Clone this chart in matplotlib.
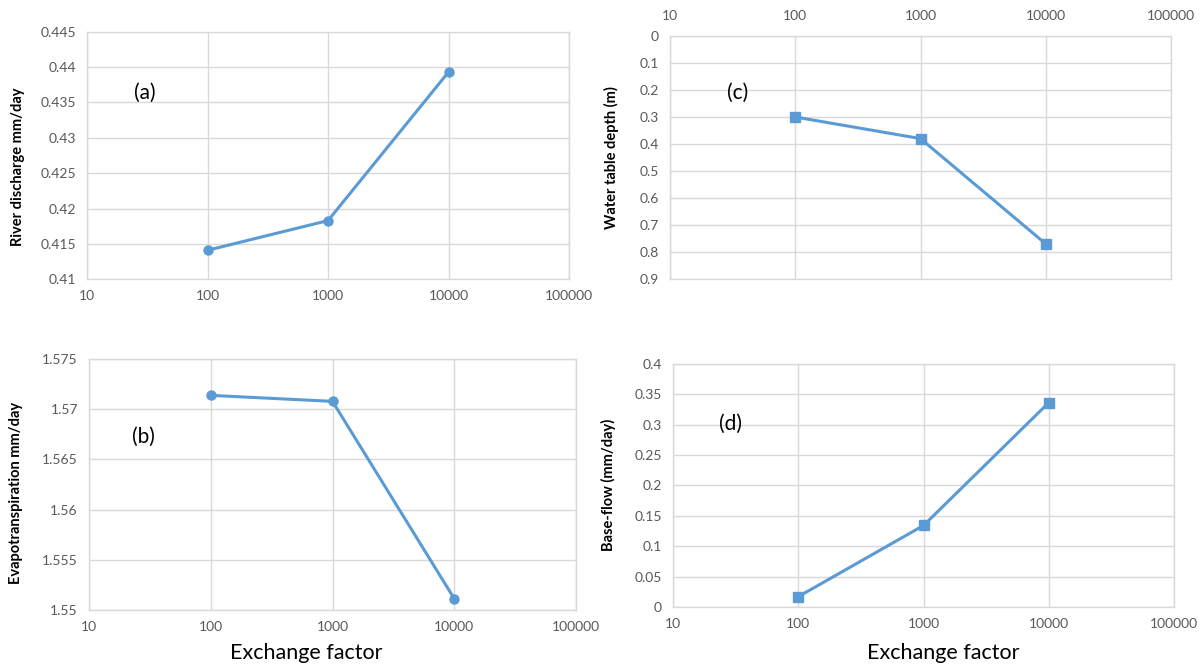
import matplotlib
matplotlib.use('Agg')
import matplotlib.pyplot as plt
from matplotlib.ticker import FixedLocator, FuncFormatter, NullLocator

plt.rcParams['font.family'] = ['Lato', 'DejaVu Sans']

W, H = 1203, 668

# data
exchange = [100, 1000, 10000]
river_discharge = [0.4141, 0.4183, 0.4393]
evapotranspiration = [1.5714, 1.5708, 1.5511]
water_table_depth = [0.30, 0.38, 0.77]
base_flow = [0.017, 0.134, 0.336]

x_ticks = [10, 100, 1000, 10000, 100000]
a_ticks = [0.41, 0.415, 0.42, 0.425, 0.43, 0.435, 0.44, 0.445]
b_ticks = [1.55, 1.555, 1.56, 1.565, 1.57, 1.575]
c_ticks = [0, 0.1, 0.2, 0.3, 0.4, 0.5, 0.6, 0.7, 0.8, 0.9]
d_ticks = [0, 0.05, 0.1, 0.15, 0.2, 0.25, 0.3, 0.35, 0.4]

BLUE = '#5B9BD5'
GRID = '#D9D9D9'
TICK = '#595959'


def px_rect(left, top, right, bottom):
    return [left / W, 1 - bottom / H, (right - left) / W, (bottom - top) / H]


def style(ax, yticks, top_x=False):
    ax.set_xscale('log')
    ax.set_xlim(10, 100000)
    ax.xaxis.set_major_locator(FixedLocator(x_ticks))
    ax.xaxis.set_minor_locator(NullLocator())
    ax.xaxis.set_major_formatter(FuncFormatter(lambda v, p: f'{int(round(v))}'))
    ax.yaxis.set_major_locator(FixedLocator(yticks))
    ax.yaxis.set_major_formatter(FuncFormatter(lambda v, p: f'{v:g}'))
    ax.grid(True, color=GRID, linewidth=1.0)
    ax.set_axisbelow(True)
    for s in ax.spines.values():
        s.set_color(GRID)
        s.set_linewidth(1.0)
    ax.tick_params(length=0, labelsize=10, labelcolor=TICK, pad=8)
    if top_x:
        ax.xaxis.tick_top()
        ax.tick_params(axis='x', pad=10)


fig = plt.figure(figsize=(W / 100, H / 100), dpi=100, facecolor='white')

# (a) river discharge
ax_a = fig.add_axes(px_rect(87, 31.7, 569, 279.3))
ax_a.plot(exchange, river_discharge, color=BLUE, lw=2.2, marker='o', ms=6.5)
style(ax_a, a_ticks)
ax_a.set_ylim(0.41, 0.445)
ax_a.text(0.12, 0.754, '(a)', transform=ax_a.transAxes, fontsize=15,
          ha='center', va='center')

# (b) evapotranspiration
ax_b = fig.add_axes(px_rect(89, 359.3, 576, 609.7))
ax_b.plot(exchange, evapotranspiration, color=BLUE, lw=2.2, marker='o', ms=6.5)
style(ax_b, b_ticks)
ax_b.set_ylim(1.55, 1.575)
ax_b.text(0.112, 0.691, '(b)', transform=ax_b.transAxes, fontsize=15,
          ha='center', va='center')

# (c) water table depth, inverted
ax_c = fig.add_axes(px_rect(670, 36, 1171, 279))
ax_c.plot(exchange, water_table_depth, color=BLUE, lw=2.2, marker='s', ms=6.5)
style(ax_c, c_ticks, top_x=True)
ax_c.set_ylim(0.9, 0)
ax_c.text(0.135, 0.767, '(c)', transform=ax_c.transAxes, fontsize=15,
          ha='center', va='center')

# (d) base-flow
ax_d = fig.add_axes(px_rect(673, 363.7, 1174, 607))
ax_d.plot(exchange, base_flow, color=BLUE, lw=2.2, marker='s', ms=6.5)
style(ax_d, d_ticks)
ax_d.set_ylim(0, 0.4)
ax_d.text(0.114, 0.752, '(d)', transform=ax_d.transAxes, fontsize=15,
          ha='center', va='center')

# axis titles placed like the Excel chart objects
ylabels = [
    (17.6, 167, 'River discharge mm/day'),
    (16, 493, 'Evapotranspiration mm/day'),
    (611.5, 158, 'Water table depth (m)'),
    (608.5, 485, 'Base-flow (mm/day)'),
]
for x, y, t in ylabels:
    fig.text(x / W, 1 - y / H, t, rotation=90, ha='center', va='center',
             fontsize=10.5, fontweight='bold')

for x in (306, 943.5):
    fig.text(x / W, 1 - 653 / H, 'Exchange factor', ha='center', va='center',
             fontsize=15.5)

fig.savefig('out.png', dpi=100, facecolor='white')
